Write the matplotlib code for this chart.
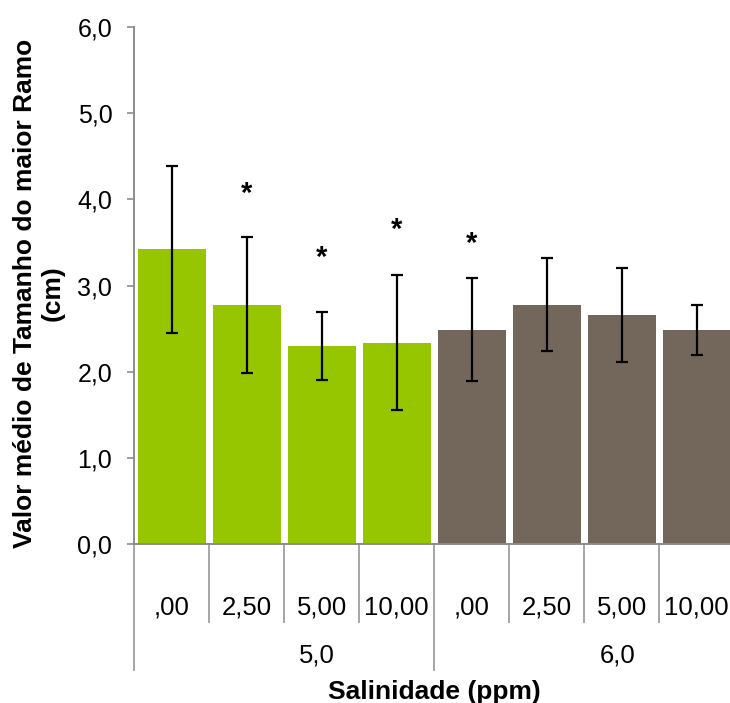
import matplotlib
matplotlib.use("Agg")
import matplotlib.pyplot as plt
import matplotlib.transforms as mtransforms

plt.rcParams['font.family'] = ['Liberation Sans', 'DejaVu Sans']

# ---- data ----
dose_labels = [",00", "2,50", "5,00", "10,00", ",00", "2,50", "5,00", "10,00"]
group_labels = ["5,0", "6,0"]
means = [3.42, 2.78, 2.30, 2.34, 2.49, 2.78, 2.66, 2.48]
errors = [0.965, 0.79, 0.395, 0.785, 0.60, 0.535, 0.54, 0.29]
significant = [False, True, True, True, True, False, False, False]
star_heights = [None, 4.11, 3.37, 3.69, 3.53, None, None, None]
yticks = [0, 1, 2, 3, 4, 5, 6]
ytick_labels = ["0,0", "1,0", "2,0", "3,0", "4,0", "5,0", "6,0"]
ylabel = "Valor médio de Tamanho do maior Ramo\n(cm)"
xlabel = "Salinidade (ppm)"

green = "#95C600"
brown = "#72675A"
colors = [green] * 4 + [brown] * 4
axis_grey = "#8C8C8C"
sep_grey = "#A6A6A6"

W, H = 730, 703
fig = plt.figure(figsize=(W / 100, H / 100), dpi=100)

ax_left, ax_right = 134.3, 734.3
ax_top, ax_bottom = 27.0, 544.3
ax = fig.add_axes([ax_left / W, 1 - ax_bottom / H,
                   (ax_right - ax_left) / W, (ax_bottom - ax_top) / H])

x = list(range(len(means)))
ax.bar(x, means, width=0.9, color=colors, edgecolor="none", zorder=2)
ax.errorbar(x, means, yerr=errors, fmt="none", ecolor="black",
            elinewidth=1.6, capsize=4.5, capthick=1.6, zorder=3)

star_offset = mtransforms.offset_copy(ax.transData, fig=fig, x=0, y=-4,
                                      units="dots")
for xi, sig, sh in zip(x, significant, star_heights):
    if sig:
        ax.text(xi, sh, "*", ha="center", va="center", fontsize=21,
                fontweight="bold", color="black", zorder=4,
                transform=star_offset)

ax.set_xlim(-0.5, len(means) - 0.5)
ax.set_ylim(0, 6)
ax.set_yticks(yticks)
ax.set_yticklabels(ytick_labels, fontsize=18)
ax.tick_params(axis="y", direction="out", length=5.3, width=1.2,
               color=axis_grey, pad=10.5)
ax.set_xticks([])

for s in ["top", "right"]:
    ax.spines[s].set_visible(False)
ax.spines["left"].set_color(axis_grey)
ax.spines["left"].set_linewidth(1.4)
ax.spines["bottom"].set_color(axis_grey)
ax.spines["bottom"].set_linewidth(1.4)

plot_h = ax_bottom - ax_top


def yfrac(px):
    return (ax_bottom - px) / plot_h


trans = mtransforms.blended_transform_factory(ax.transData, ax.transAxes)

# category separators
n = len(means)
for b in range(n + 1):
    pos = b - 0.5
    if b in (0, 4, n):
        y_end = yfrac(670)
    else:
        y_end = yfrac(622)
    ax.plot([pos, pos], [0, y_end], transform=trans, color=sep_grey,
            lw=1.4, clip_on=False, zorder=1)

# category labels
for xi, lab in zip(x, dose_labels):
    ax.text(xi, yfrac(607), lab, transform=trans, ha="center", va="center",
            fontsize=18.5)

# group labels
for gi, lab in enumerate(group_labels):
    ax.text(gi * 4 + 1.94, yfrac(656), lab, transform=trans, ha="center",
            va="center", fontsize=18.5)

# x title
fig.text(434.5 / W, 1 - 692 / H, xlabel, ha="center", va="center",
         fontsize=19, fontweight="bold")

# y title
fig.text(39 / W, 1 - 293 / H, ylabel, ha="center", va="center",
         rotation=90, fontsize=19, fontweight="bold",
         multialignment="center", linespacing=1.2)

fig.savefig("out.png", dpi=100)
